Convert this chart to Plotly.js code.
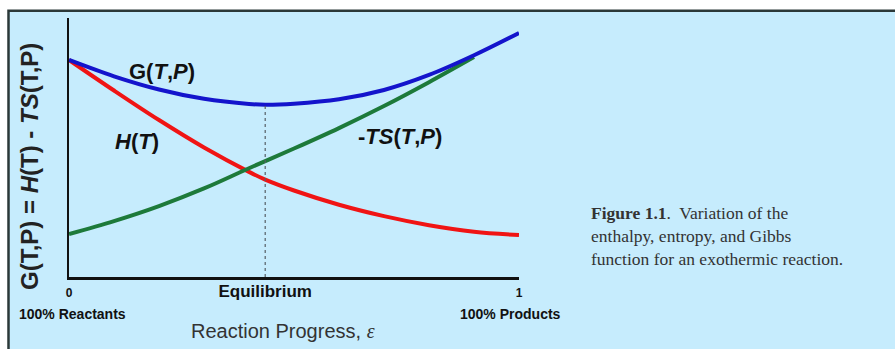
<!DOCTYPE html>
<html>
<head>
<meta charset="utf-8">
<script src="https://cdn.plot.ly/plotly-3.0.1.min.js"></script>
<style>
  html, body { margin: 0; padding: 0; background: #ffffff; }
  #chart { width: 895px; height: 349px; }
</style>
</head>
<body>
<div id="chart"></div>
<script>
// Reaction progress (0 = all reactants, 1 = all products)
const progress = [0, 0.1, 0.2, 0.3, 0.4, 0.436, 0.5, 0.6, 0.7, 0.8, 0.9, 1.0];
// Gibbs function G(T,P) along the reaction
const gibbs = [83.8, 77.5, 72.4, 68.8, 66.8, 66.5, 66.9, 68.6, 72.2, 78.0, 85.6, 94.2];
// Enthalpy H(T)
const enthalpy = [83.8, 72.0, 60.6, 50.0, 40.6, 37.6, 33.4, 27.9, 23.5, 20.0, 17.5, 16.2];
// Entropy term -TS(T,P)
const progressTS = [0, 0.1, 0.2, 0.3, 0.4, 0.5, 0.6, 0.7, 0.8, 0.9];
const entropyTerm = [16.6, 21.6, 27.4, 34.2, 42.0, 49.6, 57.5, 66.0, 75.2, 84.9];

// Equilibrium: minimum of G
const equilibriumX = 0.436;
const equilibriumG = 66.5;

const tickVals = [0, equilibriumX, 1];
const tickText = ['0', '<span style="font-size:17px">Equilibrium</span>', '1'];

const captionLines = [
  '<b>Figure 1.1</b>.  Variation of the',
  'enthalpy, entropy, and Gibbs',
  'function for an exothermic reaction.'
];

const bg = '#c6ecfd';
const sans = 'Liberation Sans, Arial, sans-serif';
const serif = 'Liberation Serif, Times New Roman, serif';

const traces = [
  {
    x: progress, y: enthalpy, mode: 'lines', name: 'H(T)',
    line: { color: '#f01414', width: 4, shape: 'spline', smoothing: 1 }
  },
  {
    x: progressTS, y: entropyTerm, mode: 'lines', name: '-TS(T,P)',
    line: { color: '#1d7a3a', width: 4, shape: 'spline', smoothing: 1 }
  },
  {
    x: progress, y: gibbs, mode: 'lines', name: 'G(T,P)',
    line: { color: '#1414cc', width: 4, shape: 'spline', smoothing: 1 }
  },
  {
    x: [equilibriumX, equilibriumX], y: [0, equilibriumG], mode: 'lines', name: 'equilibrium',
    line: { color: '#555f66', width: 1.2, dash: 'dot' }
  }
];

const labelFont = { family: sans, size: 22, color: '#111' };

// helpers for placing text in pixel terms relative to the plot area
const px = (x) => (x - 69) / 450;
const py = (y) => (277 - y) / 259;

const annotations = [
  {
    xref: 'paper', yref: 'paper', x: px(29), y: py(167),
    text: '<b>G(T,P) = <i>H</i>(T) - <i>TS</i>(T,P)</b>', textangle: -90, showarrow: false,
    xanchor: 'center', yanchor: 'middle',
    font: { family: sans, size: 24, color: '#222' }
  },
  {
    xref: 'x', yref: 'y', x: 0.207, y: 79.5, showarrow: false,
    text: '<b>G(<i>T</i>,<i>P</i>)</b>', font: labelFont
  },
  {
    xref: 'x', yref: 'y', x: 0.151, y: 52.5, showarrow: false,
    text: '<b><i>H</i>(<i>T</i>)</b>', font: labelFont
  },
  {
    xref: 'x', yref: 'y', x: 0.736, y: 54.1, showarrow: false,
    text: '<b>-<i>TS</i>(<i>T</i>,<i>P</i>)</b>', font: labelFont
  },
  {
    xref: 'paper', yref: 'paper', x: px(72), y: py(314), showarrow: false,
    text: '<b>100% Reactants</b>', xanchor: 'center', yanchor: 'middle',
    font: { family: sans, size: 14, color: '#111' }
  },
  {
    xref: 'paper', yref: 'paper', x: px(510), y: py(314), showarrow: false,
    text: '<b>100% Products</b>', xanchor: 'center', yanchor: 'middle',
    font: { family: sans, size: 14, color: '#111' }
  },
  {
    xref: 'paper', yref: 'paper', x: px(283), y: py(331), showarrow: false,
    text: 'Reaction Progress, <span style="font-family:Liberation Serif"><i>ε</i></span>',
    xanchor: 'center', yanchor: 'middle',
    font: { family: sans, size: 20, color: '#333' }
  },
  {
    xref: 'paper', yref: 'paper', x: px(589), y: py(236), showarrow: false,
    xanchor: 'left', yanchor: 'middle', align: 'left',
    text: captionLines.join('<br>'),
    font: { family: serif, size: 17.5, color: '#333' }
  }
];

const layout = {
  width: 895, height: 349,
  margin: { l: 69, r: 376, t: 18, b: 72, pad: 0 },
  paper_bgcolor: '#ffffff',
  plot_bgcolor: 'rgba(0,0,0,0)',
  showlegend: false,
  xaxis: {
    range: [0, 1], showgrid: false, zeroline: false,
    showline: true, linecolor: '#111', linewidth: 2.5,
    tickmode: 'array', tickvals: tickVals, ticktext: tickText,
    ticks: '', ticklabelstandoff: 3,
    tickfont: { family: sans, size: 12, color: '#111', weight: 'bold' }
  },
  yaxis: {
    range: [0, 100], showgrid: false, zeroline: false,
    showline: true, linecolor: '#111', linewidth: 2.5,
    showticklabels: false, ticks: ''
  },
  shapes: [
    {
      type: 'rect', xref: 'paper', yref: 'paper', layer: 'below',
      x0: px(8.5), x1: px(905),
      y0: py(360), y1: py(10.7),
      fillcolor: bg, line: { color: '#2b3838', width: 2.5 }
    }
  ],
  annotations: annotations
};

Plotly.newPlot('chart', traces, layout, { staticPlot: true, displayModeBar: false });
</script>
</body>
</html>
